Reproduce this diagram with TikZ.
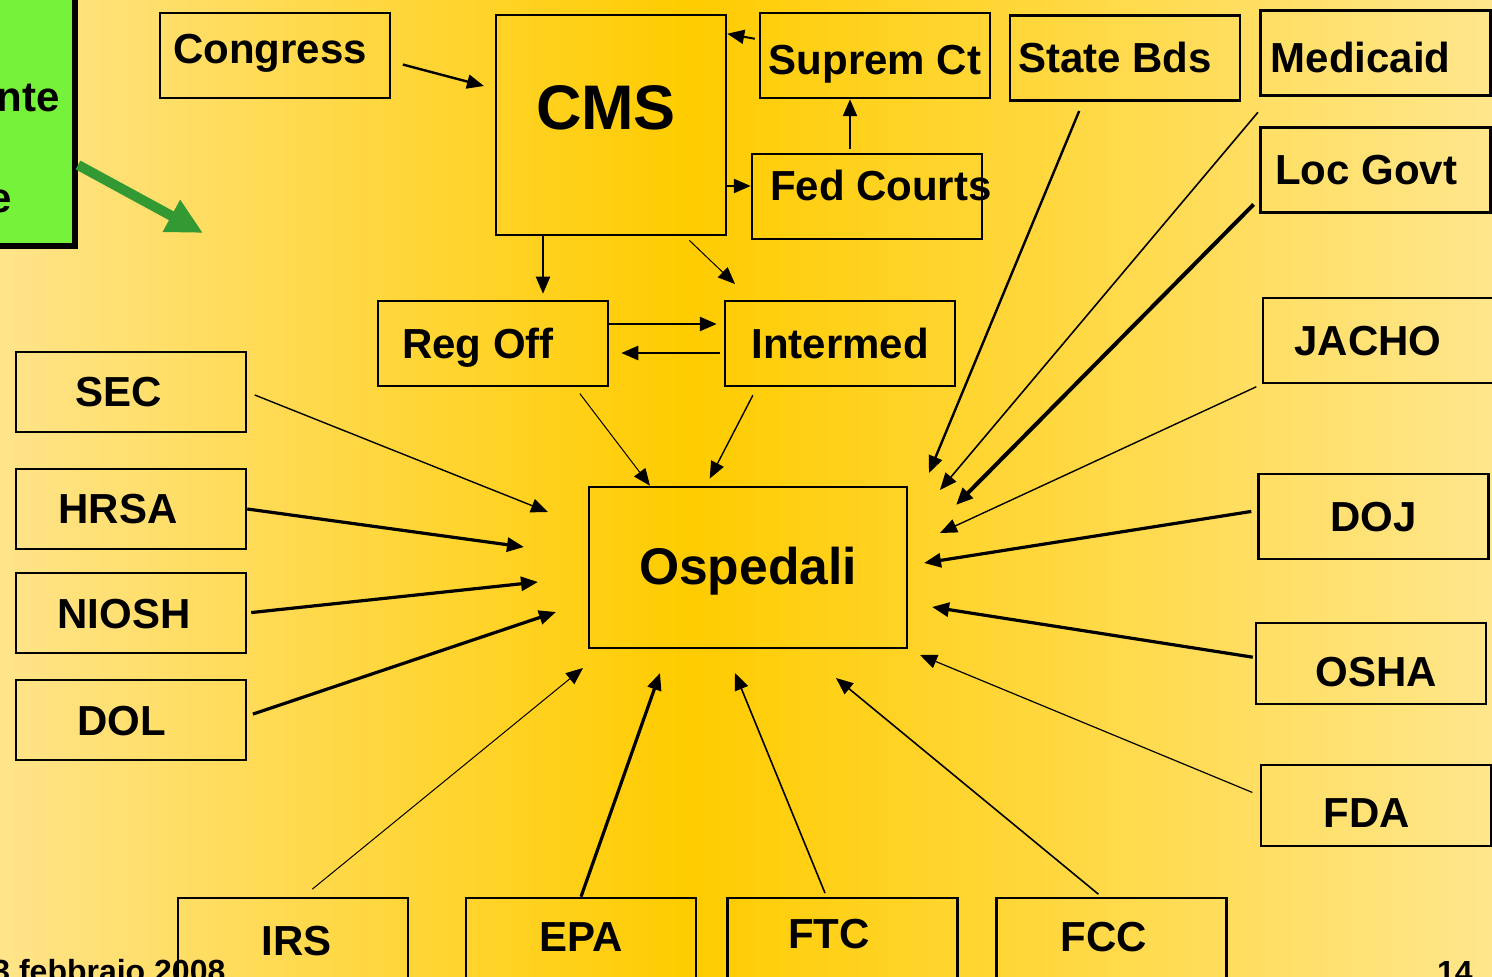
\documentclass[tikz,border=0pt]{standalone}
\usepackage{fontspec}
\setmainfont{Liberation Sans}
\usetikzlibrary{arrows.meta}

\definecolor{bgpale}{RGB}{255,228,138}
\definecolor{bggold}{RGB}{255,204,0}
\definecolor{bgpaler}{RGB}{255,230,140}
\definecolor{boxgreen}{RGB}{119,242,58}
\definecolor{arrgreen}{RGB}{51,153,51}

\tikzset{
  agency/.style={draw, line width=1.25pt, minimum width=115, minimum height=42.5,
    inner sep=0pt, font=\bfseries\fontsize{21}{21}\selectfont,
    text height=15pt, text depth=0pt},
  link/.style={-{Triangle[length=8.5pt,width=7pt]}, line width=1.2pt},
  thinlink/.style={link, line width=0.5pt},
  heavylink/.style={link, line width=1.6pt},
  foot/.style={inner sep=0pt, font=\bfseries\fontsize{16}{16}\selectfont},
}

\begin{document}
\begin{tikzpicture}[x=0.5pt, y=-0.5pt]
    \useasboundingbox (0,0) rectangle (1492,977);
    \clip (0,0) rectangle (1492,977);
    \shade[left color=bgpale, right color=bggold] (0,0) rectangle (690,977);
    \shade[left color=bggold, right color=bgpaler] (690,0) rectangle (1492,977);

    % green box, cut by the left border
    \node (pat) [draw, line width=3pt, fill=boxgreen, minimum width=47.5, minimum height=133, inner sep=0pt] at (27.5,113) {};
    \node (pat1) [anchor=base east, inner sep=0pt, font=\bfseries\fontsize{21}{21}\selectfont] at (60,112) {nte};
    \node (pat2) [anchor=base east, inner sep=0pt, font=\bfseries\fontsize{21}{21}\selectfont] at (12,213) {e};
    \coordinate (gtip) at (203,233);
    \draw[arrgreen, line width=5pt, -{Triangle[length=18pt,width=17pt]}] (pat.east |- 0,165) -- (gtip);

    % top group
    \node (cong) [agency, text depth=6.5pt] at (275,55.5) {Congress\hspace*{5pt}};
    \node (cms) [agency, minimum height=110, font=\bfseries\fontsize{31.5}{31.5}\selectfont, text height=22.6pt, text depth=18pt] at (611,125) {CMS\hspace*{5pt}};
    \node (sup) [agency, text height=19.5pt] at (875,55.5) {Suprem Ct};
    \node (fed) [agency, text depth=11pt] at (867,196.5) {\makebox[100pt][l]{\hspace*{1.5pt}Fed Courts}};
    \node (reg) [agency] at (493,343.5) {Reg Off\hspace*{15pt}};
    \node (int) [agency] at (840,343.5) {Intermed};

    % right column
    \node (sb) [agency] at (1125,58) {State Bds\hspace*{10pt}};
    \node (med) [agency, text height=19.5pt] at (1375.5,53) {Medicaid\hspace*{15pt}};
    \node (loc) [agency] at (1375.5,170) {Loc Govt\hspace*{9.5pt}};
    \node (jacho) [agency] at (1378,340.5) {JACHO\hspace*{10pt}};
    \node (doj) [agency] at (1373.5,516.5) {DOJ};
    \node (osha) [agency, minimum height=40.5, text height=22.5pt] at (1371,663.5) {\hspace*{5pt}OSHA};
    \node (fda) [agency, minimum height=40.5, text height=21.5pt] at (1376,805.5) {FDA\hspace*{9pt}};

    % left column
    \node (sec) [agency, minimum height=40] at (131,392) {SEC\hspace*{12pt}};
    \node (hrsa) [agency, minimum height=40] at (131,509) {HRSA\hspace*{13pt}};
    \node (niosh) [agency, minimum height=40] at (131,613) {NIOSH\hspace*{7pt}};
    \node (dol) [agency, minimum height=40] at (131,720) {DOL\hspace*{9pt}};

    % bottom row
    \node (irs) [agency] at (293,940.5) {\hspace*{4pt}IRS};
    \node (epa) [agency, text depth=4.5pt] at (581,940.5) {EPA};
    \node (ftc) [agency, text depth=7pt] at (842.5,940.5) {FTC\hspace*{13.5pt}};
    \node (fcc) [agency, text depth=4.5pt] at (1111.5,940.5) {FCC\hspace*{8pt}};

    \node (osp) [agency, minimum width=159, minimum height=80.5, font=\bfseries\fontsize{25.8}{25.8}\selectfont, text height=18.5pt, text depth=2pt] at (748,567.5) {Ospedali};

    \node (date) [foot, anchor=base west] at (-8,982) {3 febbraio 2008};
    \node (page) [foot, anchor=base east] at (1473,983) {14};

    % free arrow ends
    \coordinate (t-cong) at (484,86);
    \coordinate (t-int) at (735,284);
    \coordinate (t-sec) at (548,512);
    \coordinate (t-hrsa) at (524,547);
    \coordinate (t-niosh) at (538,582);
    \coordinate (t-dol) at (556,612);
    \coordinate (t-irs) at (583,668);
    \coordinate (t-epa) at (660,673);
    \coordinate (t-ftc) at (735,673);
    \coordinate (t-fcc) at (836,678);
    \coordinate (t-fda) at (920,655);
    \coordinate (t-osha) at (932,607);
    \coordinate (t-doj) at (924,563);
    \coordinate (t-jacho) at (940,533);
    \coordinate (t-loc) at (956,505);
    \coordinate (t-med) at (940,490);
    \coordinate (t-sb) at (929,473);

    \draw[link, shorten <=6pt] ([yshift=-3pt]cong.east) -- (t-cong);
    \draw[link, line width=1pt, shorten <=2pt] ([yshift=8pt]sup.west) -- ([yshift=-10pt]cms.north east);
    \draw[link, shorten <=2pt] (850,0 |- fed.north) -- (850,0 |- sup.south);
    \draw[link] (cms.east |- 0,186) -- (fed.west |- 0,186);
    \draw[link, line width=1pt, shorten >=3pt] (543,0 |- cms.south) -- (543,0 |- reg.north);
    \draw[thinlink, shorten <=3pt] ([xshift=37pt]cms.south) -- (t-int);
    \draw[link, shorten >=3.5pt] (reg.east |- 0,324) -- (int.west |- 0,324);
    \draw[link, shorten <=2pt, shorten >=6pt] (int.west |- 0,353) -- (reg.east |- 0,353);
    \draw[thinlink, shorten <=4pt] ([xshift=41pt]reg.south) -- ([xshift=-49pt]osp.north);
    \draw[link, line width=0.7pt, shorten <=4.5pt, shorten >=4pt] ([xshift=-41.5pt]int.south) -- ([xshift=-21pt]osp.north);

    \draw[link, line width=0.7pt, shorten <=4pt] (sec.east) -- (t-sec);
    \draw[heavylink] (hrsa.east) -- (t-hrsa);
    \draw[heavylink, shorten <=2pt] (niosh.east) -- (t-niosh);
    \draw[heavylink, shorten <=3pt] ([yshift=2pt]dol.east) -- (t-dol);

    \draw[thinlink, shorten <=6pt] ([xshift=5pt]irs.north) -- (t-irs);
    \draw[heavylink] (epa.north) -- (t-epa);
    \draw[link, line width=0.8pt, shorten <=2pt] ([xshift=-8pt]ftc.north) -- (t-ftc);
    \draw[link, line width=0.8pt, shorten <=2pt] ([xshift=-5pt]fcc.north) -- (t-fcc);

    \draw[link, line width=0.6pt, shorten <=4pt] ([yshift=5pt]fda.west) -- (t-fda);
    \draw[heavylink, shorten <=1pt] ([yshift=3pt]osha.west) -- (t-osha);
    \draw[heavylink, shorten <=3pt] ([yshift=3pt]doj.west) -- (t-doj);
    \draw[link, line width=0.7pt, shorten <=3pt] (jacho.south west) -- (t-jacho);
    \draw[link, line width=2pt, shorten <=4pt] ([yshift=7.5pt]loc.south west) -- (t-loc);
    \draw[link, line width=0.8pt, shorten <=1pt] ([yshift=-7pt]med.south west) -- (t-med);
    \draw[link, shorten <=5pt] ([xshift=-21pt]sb.south) -- (t-sb);
\end{tikzpicture}
\end{document}
